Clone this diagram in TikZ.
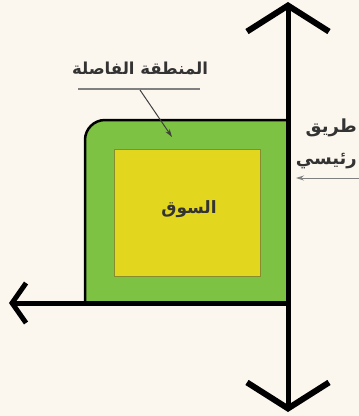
\documentclass[tikz,border=0pt]{standalone}
\usepackage{fontspec}
\newfontfamily\arabicfont[Script=Arabic]{DejaVu Sans}
\TeXXeTstate=1
\usetikzlibrary{arrows.meta}
\definecolor{paper}{RGB}{251,247,238}
\definecolor{buffer}{RGB}{125,194,66}
\definecolor{market}{RGB}{227,214,30}
\definecolor{marketline}{RGB}{135,140,45}
\tikzset{
	arlabel/.style={font={\arabicfont\bfseries\fontsize{#1}{32}\selectfont}, text=black!80, inner sep=0pt},
	arlabel/.default=18,
	road/.style={line width=5pt},
	pointer/.style={line width=1pt, -{Stealth[length=8pt,width=5pt]}}
}
\begin{document}
\begin{tikzpicture}[x=1pt,y=-1pt]
	\useasboundingbox (0,0) rectangle (359,416);
	\fill[paper] (0,0) rectangle (359,416);
	\clip (0,0) rectangle (359,416);
	\coordinate (top) at (288,2);
	\coordinate (bottom) at (288,412);
	\coordinate (corner) at (288,303);
	\coordinate (west) at (9,303);
	\coordinate (zoneL) at (78,89);
	\coordinate (zoneR) at (200,89);
	\coordinate (zoneM) at (140,90);
	\coordinate (zoneTip) at (172,137);
	\coordinate (roadStart) at (361,178);
	\coordinate (roadTip) at (296,178);

\fill[buffer] (85,303) -- (85,140) arc[start angle=180,end angle=270,radius=20] -- (288,120) -- (corner) -- cycle;
\draw[line width=2.5pt] (85,303) -- (85,140) arc[start angle=180,end angle=270,radius=20] -- (288,120);
\filldraw[fill=market, draw=marketline, line width=0.8pt] (114,149) rectangle (260,276);

	\node[arlabel=17] (souq) at (189,209) {\beginR السوق\endR};
	\node[arlabel=16.5] (zone) at (140,68) {\beginR المنطقة الفاصلة\endR};
	\node[arlabel, anchor=north east, align=right] (mainroad) at (357,119) {\beginR طريق\endR\\\beginR رئيسي\endR};

\draw[road, {Straight Barb[length=26pt,width=82pt,line width=6pt]}-{Straight Barb[length=26pt,width=82pt,line width=6pt]}] (top) -- (bottom);
\draw[road, -{Straight Barb[length=14pt,width=40pt,line width=5pt]}] (corner) -- (west);
\draw[gray, line width=1.2pt] (zoneL) -- (zoneR);
\draw[pointer, black!75] (zoneM) -- (zoneTip);
\draw[pointer, gray, line width=0.8pt] (roadStart) -- (roadTip);
\end{tikzpicture}
\end{document}
